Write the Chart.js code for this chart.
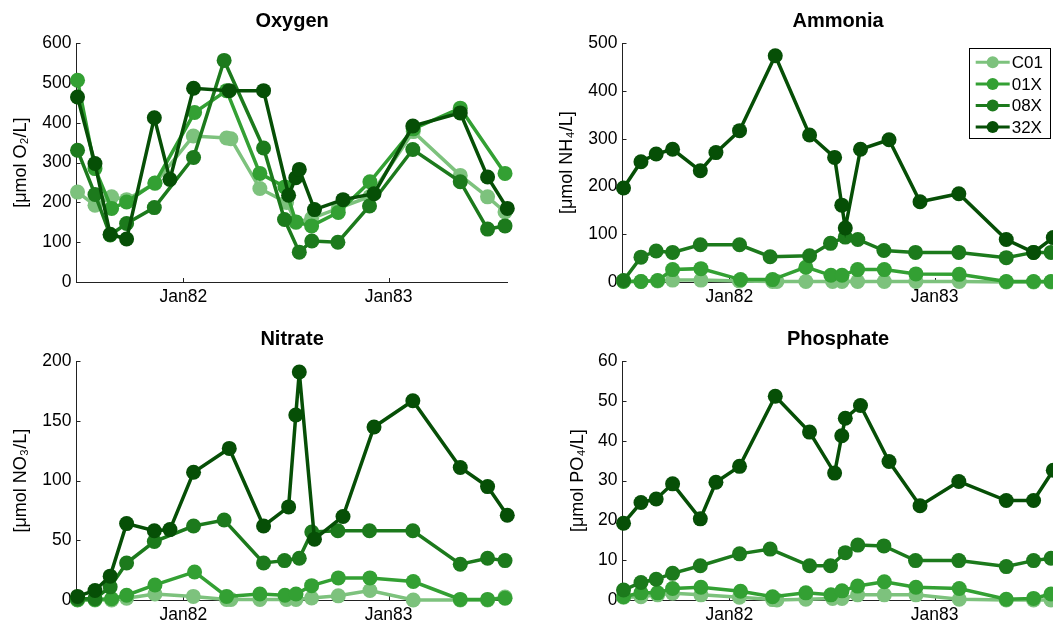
<!DOCTYPE html>
<html>
<head>
<meta charset="utf-8">
<title>Mesocosm nutrients</title>
<script src="https://cdn.jsdelivr.net/npm/chart.js@4.4.1/dist/chart.umd.min.js"></script>
<style>
  html, body { margin: 0; padding: 0; background: #fff; overflow: hidden; }
  body { position: relative; width: 1053px; height: 623px; }
  canvas { position: absolute; }
  #oxy { left: 0; top: 0; }
  #amm { left: 546px; top: 0; }
  #nit { left: 0; top: 318px; }
  #pho { left: 546px; top: 318px; }
</style>
</head>
<body>
<canvas id="oxy" width="520" height="308"></canvas>
<canvas id="amm" width="520" height="308"></canvas>
<canvas id="nit" width="520" height="308"></canvas>
<canvas id="pho" width="520" height="308"></canvas>
<script>
// Sampling dates per mesocosm, as decimal years.
var DATES_C01 = [1981.485, 1981.570, 1981.651, 1981.724, 1981.862, 1982.049, 1982.211, 1982.232, 1982.373,
                 1982.503, 1982.549, 1982.625, 1982.755, 1982.909, 1983.120, 1983.349, 1983.482, 1983.567];
var DATES_01X = [1981.485, 1981.570, 1981.651, 1981.724, 1981.862, 1982.055, 1982.211, 1982.373, 1982.495,
                 1982.549, 1982.625, 1982.755, 1982.909, 1983.120, 1983.349, 1983.482, 1983.567];
var DATES_08X = [1981.485, 1981.570, 1981.644, 1981.724, 1981.859, 1982.050, 1982.199, 1982.391, 1982.493,
                 1982.565, 1982.626, 1982.753, 1982.907, 1983.118, 1983.349, 1983.482, 1983.567];
var DATES_32X = [1981.485, 1981.570, 1981.644, 1981.724, 1981.859, 1981.935, 1982.050, 1982.224, 1982.391,
                 1982.513, 1982.548, 1982.565, 1982.639, 1982.778, 1982.929, 1983.118, 1983.349, 1983.482, 1983.578];

// Oxygen, umol O2/L
var OXY_C01 = [226, 193, 214, 207, 248, 367, 362, 360, 235, 200, 150, 160, 185, 215, 378, 268, 214, 176];
var OXY_01X = [507, 285, 185, 201, 249, 426, 481, 273, 239, 151, 141, 175, 252, 385, 437, null, 273];
var OXY_08X = [331, 220, 118, 147, 187, 313, 557, 337, 157, 75, 103, 100, 191, 333, 252, 133, 141];
var OXY_32X = [465, 298, 120, 108, 413, 258, 487, 481, 481, 218, 262, 283, 182, 207, 222, 392, 425, 264, 185];

// Ammonia, umol NH4/L
var AMM_C01 = [2, 1, 2, 4, 4, 2, 1, 1, 1, 1, 1, 1, 1, 1, 1, 0, 0, 0];
var AMM_01X = [1, 1, 3, 26, 28, 5, 5, 31, 14, 14, 26, 26, 17, 16, 1, 1, 1];
var AMM_08X = [3, 52, 65, 62, 78, 78, 53, 55, 81, 94, 89, 66, 62, 62, 51, 62, 62];
var AMM_32X = [197, 252, 268, 278, 233, 271, 317, 474, 308, 261, 161, 113, 278, 298, 168, 185, 89, 62, 93];

// Nitrate, umol NO3/L
var NIT_C01 = [0, 0, 0, 1.5, 5, 3, 0.5, 0.5, 0.5, 0.5, 0.5, 1.7, 3.5, 8, 0, 0, 0, 2.5];
var NIT_01X = [0.3, 0.5, 1, 4, 12.6, 23.5, 3, 5, 4, 5, 12, 18.5, 18.5, 15.5, 0.5, 0.5, 1.5];
var NIT_08X = [1, 1, 11, 31, 49, 62, 67, 31, 33, 35, 57, 58, 58, 58, 30, 35, 33];
var NIT_32X = [3, 8, 20, 64, 58, 59, 107, 127, 62, 78, 155, 191, 51, 70, 145, 167, 111, 95, 71];

// Phosphate, umol PO4/L
var PHO_C01 = [0.7, 0.8, 1.3, 1.7, 1.3, 0.7, 0.1, 0, 0.2, 0.4, 0.4, 1.3, 1.3, 1.3, 0.2, 0, 0, 0];
var PHO_01X = [0.8, 1.8, 1.8, 2.9, 3.2, 2.2, 0.8, 1.8, 1.3, 2.3, 3.5, 4.6, 3.2, 2.9, 0.2, 0.4, 1.5];
var PHO_08X = [2.5, 4.4, 5.2, 6.7, 8.6, 11.6, 12.8, 8.6, 8.6, 11.9, 13.8, 13.6, 9.9, 9.9, 8.4, 9.9, 10.5];
var PHO_32X = [19.3, 24.5, 25.4, 29.2, 20.4, 29.6, 33.6, 51.2, 42.2, 31.9, 41.3, 45.7, 48.9, 34.8, 23.7, 29.8, 25.0, 25.0, 32.6];

var X_MIN = 1981.48, X_MAX = 1983.58;
var X_TICKS = [1982, 1983];
var X_TICK_LABELS = ['Jan82', 'Jan83'];

var SERIES_NAMES = ['C01', '01X', '08X', '32X'];
var SERIES_DATES = [DATES_C01, DATES_01X, DATES_08X, DATES_32X];
var SERIES_COLORS = ['#7dc27d', '#33a033', '#1c7a1c', '#064f06'];

var AXIS_COLOR = '#222';
var FONT = "'Liberation Sans', Arial, Helvetica, sans-serif";

Chart.defaults.font.family = FONT;
Chart.defaults.color = '#000';

// MATLAB-style ticks pointing into the plot, drawn under the data.
var inwardTicks = {
  id: 'inwardTicks',
  beforeDatasetsDraw: function (chart) {
    var ctx = chart.ctx, a = chart.chartArea, len = 4;
    var xs = chart.scales.x, ys = chart.scales.y;
    ctx.save();
    ctx.strokeStyle = AXIS_COLOR;
    ctx.lineWidth = 1;
    ctx.beginPath();
    xs.ticks.forEach(function (t) {
      var px = Math.round(xs.getPixelForValue(t.value)) + 0.5;
      ctx.moveTo(px, a.bottom);
      ctx.lineTo(px, a.bottom - len);
    });
    ys.ticks.forEach(function (t) {
      var py = Math.round(ys.getPixelForValue(t.value)) + 0.5;
      ctx.moveTo(a.left, py);
      ctx.lineTo(a.left + len, py);
    });
    ctx.stroke();
    ctx.restore();
  }
};

// Boxed legend with line + marker samples in the top-right corner.
var legendBox = {
  id: 'legendBox',
  afterDraw: function (chart, args, opts) {
    if (!opts.show) return;
    var ctx = chart.ctx;
    var a = chart.chartArea;
    var w = 81, rowH = 21.6, h = 90;
    var x0 = a.right - 4 - w, y0 = a.top + 5;
    ctx.save();
    ctx.fillStyle = '#fff';
    ctx.fillRect(x0, y0, w, h);
    ctx.strokeStyle = '#000';
    ctx.lineWidth = 1;
    ctx.strokeRect(Math.round(x0) + 0.5, Math.round(y0) + 0.5, w, h);
    ctx.font = '17px ' + FONT;
    ctx.textBaseline = 'middle';
    SERIES_NAMES.forEach(function (name, i) {
      var cy = y0 + 14 + i * rowH;
      ctx.strokeStyle = SERIES_COLORS[i];
      ctx.lineWidth = 3;
      ctx.beginPath();
      ctx.moveTo(x0 + 7, cy);
      ctx.lineTo(x0 + 41, cy);
      ctx.stroke();
      ctx.fillStyle = SERIES_COLORS[i];
      ctx.beginPath();
      ctx.arc(x0 + 24, cy, 6, 0, Math.PI * 2);
      ctx.fill();
      ctx.fillStyle = '#000';
      ctx.fillText(name, x0 + 43, cy + 1);
    });
    ctx.restore();
  }
};

function panel(id, title, yTitle, yMax, yStep, values, opts) {
  opts = opts || {};
  var datasets = SERIES_NAMES.map(function (name, i) {
    var dates = SERIES_DATES[i], ys = values[i];
    return {
      label: name,
      data: dates.map(function (d, j) { return { x: d, y: ys[j] }; }),
      borderColor: SERIES_COLORS[i],
      backgroundColor: SERIES_COLORS[i],
      borderWidth: 3.5,
      pointRadius: 7.5,
      pointHoverRadius: 7.5,
      pointBorderWidth: 0,
      tension: 0,
      spanGaps: true,
      clip: false,
      order: SERIES_NAMES.length - i
    };
  });

  return new Chart(document.getElementById(id), {
    type: 'line',
    data: { datasets: datasets },
    options: {
      responsive: false,
      animation: false,
      devicePixelRatio: 1,
      events: [],
      layout: { padding: { left: 0, right: 12.3, top: 0, bottom: 0 } },
      plugins: {
        legend: { display: false },
        tooltip: { enabled: false },
        title: {
          display: true, text: title, color: '#000', fullSize: false,
          font: { size: 20, weight: 'bold' },
          padding: { top: 9.7, bottom: 9.6 }
        },
        legendBox: { show: !!opts.legend }
      },
      scales: {
        x: {
          type: 'linear', min: X_MIN, max: X_MAX,
          afterBuildTicks: function (s) {
            s.ticks = X_TICKS.map(function (v) { return { value: v }; });
          },
          afterFit: function (s) { s.height = 26; },
          ticks: {
            autoSkip: false, maxRotation: 0, padding: 5,
            font: { size: 17.5 }, color: '#000',
            callback: function (v) { return X_TICK_LABELS[X_TICKS.indexOf(v)]; }
          },
          grid: { drawOnChartArea: false, drawTicks: false },
          border: { color: AXIS_COLOR, width: 1 }
        },
        y: {
          min: 0, max: yMax,
          afterFit: function (s) { s.width = 76.5; },
          ticks: { stepSize: yStep, padding: 5, font: { size: 17.5 }, color: '#000' },
          grid: { drawOnChartArea: false, drawTicks: false },
          border: { color: AXIS_COLOR, width: 1 },
          title: {
            display: true, text: yTitle, color: '#000',
            font: { size: 18 },
            padding: { top: opts.titlePad || 10, bottom: 0 }
          }
        }
      }
    },
    plugins: [inwardTicks, legendBox]
  });
}

panel('oxy', 'Oxygen', '[\u03bcmol O\u2082/L]', 600, 100, [OXY_C01, OXY_01X, OXY_08X, OXY_32X]);
panel('amm', 'Ammonia', '[\u03bcmol NH\u2084/L]', 500, 100, [AMM_C01, AMM_01X, AMM_08X, AMM_32X], { legend: true });
panel('nit', 'Nitrate', '[\u03bcmol NO\u2083/L]', 200, 50, [NIT_C01, NIT_01X, NIT_08X, NIT_32X]);
panel('pho', 'Phosphate', '[\u03bcmol PO\u2084/L]', 60, 10, [PHO_C01, PHO_01X, PHO_08X, PHO_32X], { titlePad: 21.5 });
</script>
</body>
</html>
